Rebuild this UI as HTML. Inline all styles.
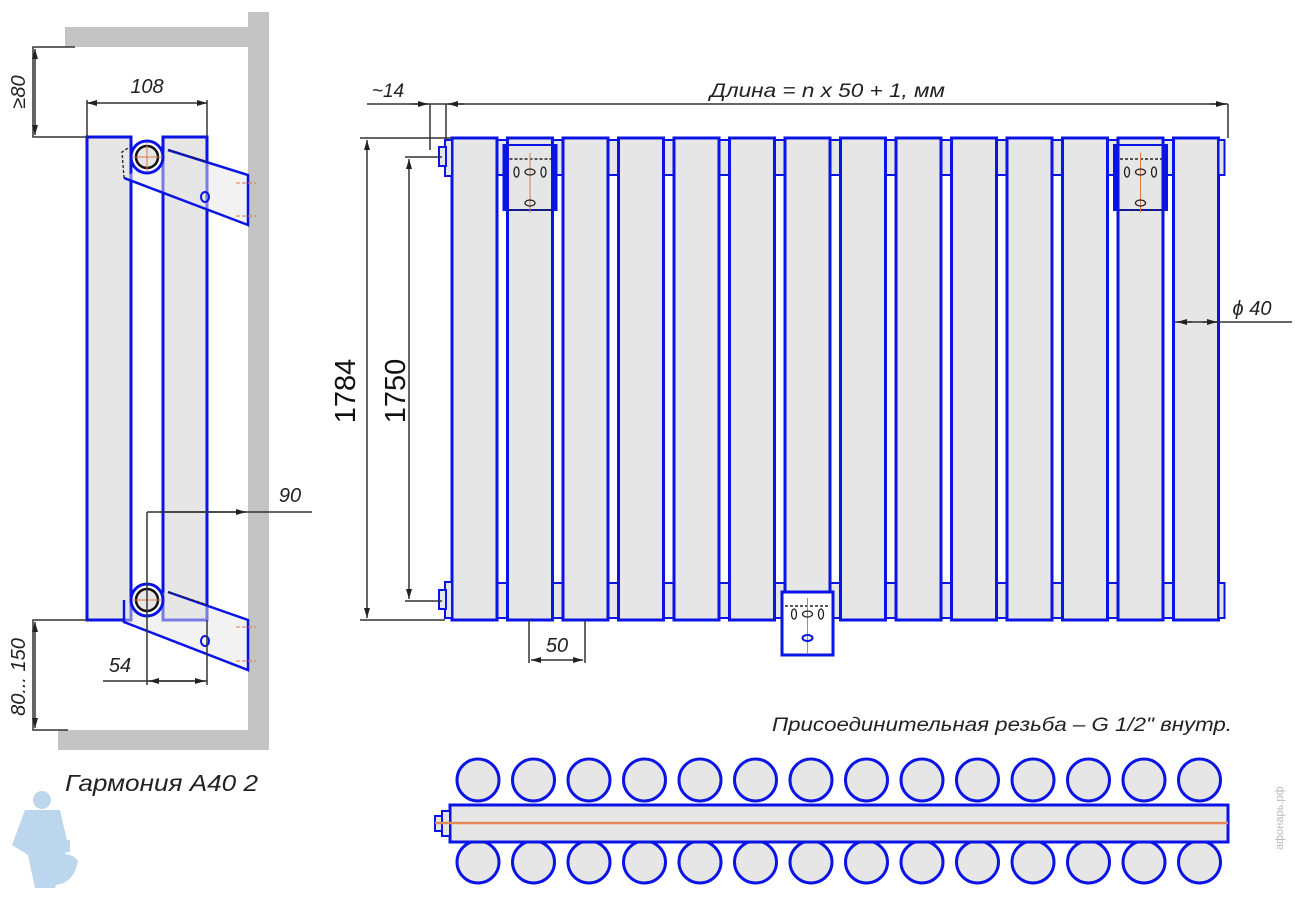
<!DOCTYPE html>
<html><head><meta charset="utf-8"><style>
html,body{margin:0;padding:0;background:#fff;}
svg{display:block;}
.t{font-family:"Liberation Sans","DejaVu Sans",sans-serif;font-style:italic;fill:#222;}
.d{stroke:#333;stroke-width:1.5;fill:none;}
.b{stroke:#0a14e6;fill:#e6e6e6;}
</style></head><body>
<svg width="1299" height="905" viewBox="0 0 1299 905" xmlns="http://www.w3.org/2000/svg">
<defs>
<marker id="a" viewBox="0 0 10 6" refX="10" refY="3" markerWidth="10" markerHeight="6" orient="auto-start-reverse" markerUnits="userSpaceOnUse"><path d="M0,0L10,3L0,6z" fill="#222"/></marker>
<g id="col">
<rect x="45" y="140" width="10" height="35" class="b" stroke-width="2"/>
<rect x="45" y="583" width="10" height="35" class="b" stroke-width="2"/>
<rect x="0" y="138" width="45" height="482" class="b" stroke-width="3"/>
</g>
<g id="cir"><circle r="21" class="b" stroke-width="3"/></g>
<g id="brk">
<rect x="-4" y="0" width="53" height="65" fill="none" stroke="#0a14e6" stroke-width="2"/>
<rect x="-4" y="0" width="5" height="65" fill="#0a14e6"/>
<rect x="44" y="0" width="5" height="65" fill="#0a14e6"/>
<line x1="2" y1="14" x2="44" y2="14" stroke="#222" stroke-dasharray="3,2" stroke-width="1.5"/>
<line x1="2" y1="65" x2="44" y2="65" stroke="#222" stroke-dasharray="3,2" stroke-width="1.5"/>
<line x1="22.5" y1="8" x2="22.5" y2="68" stroke="#e07840" stroke-width="1"/>
<ellipse cx="9" cy="27" rx="2.5" ry="5" fill="none" stroke="#222" stroke-width="1.3"/>
<ellipse cx="36" cy="27" rx="2.5" ry="5" fill="none" stroke="#222" stroke-width="1.3"/>
<ellipse cx="22.5" cy="27" rx="5" ry="3" fill="none" stroke="#222" stroke-width="1.3"/>
<ellipse cx="22.5" cy="58" rx="5" ry="3" fill="none" stroke="#222" stroke-width="1.3"/>
</g>
</defs>

<!-- LEFT SIDE VIEW -->
<rect x="65" y="27" width="183" height="20" fill="#c4c4c4"/>
<rect x="248" y="12" width="21" height="738" fill="#c4c4c4"/>
<rect x="58" y="730" width="211" height="20" fill="#c4c4c4"/>
<rect x="87" y="137" width="44" height="483" class="b" stroke-width="3"/>
<rect x="163" y="137" width="44" height="483" class="b" stroke-width="3"/>
<line x1="131" y1="137" x2="131" y2="620" stroke="#0a14e6" stroke-width="3"/>
<path d="M168,150 L248,175 L248,225 L124,178" fill="#e6e6e6" fill-opacity=".5" stroke="#0a14e6" stroke-width="2.5"/>
<path d="M168,150 L208,162 M124,178 L122,152 L128,148" fill="none" stroke="#222" stroke-width="1.3" stroke-dasharray="3,2"/>
<ellipse cx="205" cy="197" rx="4" ry="5" fill="none" stroke="#0a14e6" stroke-width="2"/>
<line x1="236" y1="183" x2="256" y2="183" stroke="#e07840" stroke-dasharray="4,2"/>
<line x1="236" y1="216" x2="256" y2="216" stroke="#e07840" stroke-dasharray="4,2"/>
<circle cx="147" cy="157" r="16" fill="#fff" stroke="#0a14e6" stroke-width="3"/>
<circle cx="147" cy="157" r="11" fill="#e6e6e6" stroke="#111" stroke-width="2.5"/>
<line x1="133" y1="157" x2="161" y2="157" stroke="#e07840"/><line x1="147" y1="143" x2="147" y2="171" stroke="#e07840"/>
<path d="M168,592 L248,620 L248,670 L124,622 L124,600" fill="#e6e6e6" fill-opacity=".5" stroke="#0a14e6" stroke-width="2.5"/>
<path d="M168,592 L208,605" fill="none" stroke="#222" stroke-width="1.3" stroke-dasharray="3,2"/>
<ellipse cx="205" cy="641" rx="4" ry="5" fill="none" stroke="#0a14e6" stroke-width="2"/>
<line x1="236" y1="627" x2="256" y2="627" stroke="#e07840" stroke-dasharray="4,2"/>
<line x1="236" y1="661" x2="256" y2="661" stroke="#e07840" stroke-dasharray="4,2"/>
<circle cx="147" cy="600" r="16" fill="#fff" stroke="#0a14e6" stroke-width="3"/>
<circle cx="147" cy="600" r="11" fill="#e6e6e6" stroke="#111" stroke-width="2.5"/>
<line x1="133" y1="600" x2="161" y2="600" stroke="#e07840"/><line x1="147" y1="586" x2="147" y2="614" stroke="#e07840"/>
<path class="d" d="M75,47 L33,47 L33,137 L87,137"/>
<line class="d" x1="35" y1="49" x2="35" y2="135" marker-start="url(#a)" marker-end="url(#a)"/>
<text class="t" font-size="20" transform="translate(25,92) rotate(-90)" text-anchor="middle">≥80</text>
<path class="d" d="M87,137 L87,100 M207,137 L207,100"/>
<line class="d" x1="87" y1="103" x2="207" y2="103" marker-start="url(#a)" marker-end="url(#a)"/>
<text class="t" font-size="20" x="147" y="93" text-anchor="middle">108</text>
<path class="d" d="M147,512 L147,685 M312,512 L147,512"/>
<line class="d" x1="160" y1="512" x2="246" y2="512" marker-end="url(#a)"/>
<text class="t" font-size="20" x="290" y="502" text-anchor="middle">90</text>
<path class="d" d="M103,681 L207,681 M207,620 L207,685"/>
<line class="d" x1="149" y1="681" x2="205" y2="681" marker-start="url(#a)" marker-end="url(#a)"/>
<text class="t" font-size="20" x="120" y="672" text-anchor="middle">54</text>
<path class="d" d="M87,620 L33,620 L33,730 L68,730"/>
<line class="d" x1="35" y1="622" x2="35" y2="728" marker-start="url(#a)" marker-end="url(#a)"/>
<text class="t" font-size="20" transform="translate(25,677) rotate(-90)" text-anchor="middle">80... 150</text>
<text class="t" font-size="23" x="65" y="791" textLength="193" lengthAdjust="spacingAndGlyphs" fill="#111">Гармония А40 2</text>
<g fill="#bcd6ee"><circle cx="42" cy="800" r="9"/><path d="M25,810 L60,810 L68,845 L55,888 L35,888 L28,855 L12,845z"/><path d="M50,840 h20 v12 h-20z"/><path d="M50,855 q22,-4 28,6 q-4,22 -22,24 z"/></g>

<!-- FRONT VIEW -->
<use href="#col" x="452"/><use href="#col" x="507.5"/><use href="#col" x="563"/><use href="#col" x="618.5"/>
<use href="#col" x="674"/><use href="#col" x="729.5"/><use href="#col" x="785"/><use href="#col" x="840.5"/>
<use href="#col" x="896"/><use href="#col" x="951.5"/><use href="#col" x="1007"/><use href="#col" x="1062.5"/>
<use href="#col" x="1118"/>
<rect x="1173.5" y="138" width="45" height="482" class="b" stroke-width="3"/>
<rect x="1218.5" y="140" width="6" height="35" class="b" stroke-width="2"/>
<rect x="1218.5" y="583" width="6" height="35" class="b" stroke-width="2"/>
<rect x="445" y="140" width="7" height="36" class="b" stroke-width="2"/>
<rect x="439" y="147" width="7" height="19" class="b" stroke-width="2"/>
<rect x="445" y="582" width="7" height="36" class="b" stroke-width="2"/>
<rect x="439" y="590" width="7" height="19" class="b" stroke-width="2"/>
<use href="#brk" x="507.5" y="145"/>
<use href="#brk" x="1118" y="145"/>
<g transform="translate(785,592)">
<rect x="-3" y="0" width="51" height="63" fill="#fff" stroke="#0a14e6" stroke-width="3"/>
<line x1="0" y1="14" x2="45" y2="14" stroke="#222" stroke-dasharray="3,2" stroke-width="1.5"/>
<line x1="22.5" y1="6" x2="22.5" y2="62" stroke="#e07840"/>
<ellipse cx="9" cy="22" rx="2.5" ry="5" fill="none" stroke="#222" stroke-width="1.3"/>
<ellipse cx="36" cy="22" rx="2.5" ry="5" fill="none" stroke="#222" stroke-width="1.3"/>
<ellipse cx="22.5" cy="22" rx="5" ry="3" fill="none" stroke="#222" stroke-width="1.3"/>
<ellipse cx="22.5" cy="46" rx="5" ry="3" fill="none" stroke="#0a14e6" stroke-width="2"/>
</g>
<line class="d" x1="367" y1="104" x2="1228" y2="104"/>
<path class="d" d="M1228,104 L1228,138 M430,104 L430,150 M446,104 L446,140"/>
<line class="d" x1="412" y1="104" x2="428" y2="104" marker-end="url(#a)"/>
<line class="d" x1="464" y1="104" x2="448" y2="104" marker-end="url(#a)"/>
<line class="d" x1="1210" y1="104" x2="1226" y2="104" marker-end="url(#a)"/>
<text class="t" font-size="19" x="388" y="97" text-anchor="middle">~14</text>
<text class="t" font-size="19" x="710" y="97" textLength="235" lengthAdjust="spacingAndGlyphs">Длина = n x 50 + 1, мм</text>
<path class="d" d="M360,138 L452,138 M360,620 L445,620 M405,157 L442,157 M405,601 L442,601"/>
<line class="d" x1="367" y1="140" x2="367" y2="618" marker-start="url(#a)" marker-end="url(#a)"/>
<line class="d" x1="409" y1="159" x2="409" y2="599" marker-start="url(#a)" marker-end="url(#a)"/>
<text font-family="Liberation Sans,sans-serif" font-size="29" fill="#111" transform="translate(355,391) rotate(-90)" text-anchor="middle">1784</text>
<text font-family="Liberation Sans,sans-serif" font-size="29" fill="#111" transform="translate(405,391) rotate(-90)" text-anchor="middle">1750</text>
<path class="d" d="M529,620 L529,663 M585,620 L585,663"/>
<line class="d" x1="531" y1="660" x2="583" y2="660" marker-start="url(#a)" marker-end="url(#a)"/>
<text class="t" font-size="20" x="557" y="652" text-anchor="middle">50</text>
<line class="d" x1="1175" y1="322" x2="1292" y2="322"/>
<line class="d" x1="1192" y1="322" x2="1177" y2="322" marker-end="url(#a)"/>
<line class="d" x1="1202" y1="322" x2="1217" y2="322" marker-end="url(#a)"/>
<text class="t" font-size="20" x="1252" y="315" text-anchor="middle">ϕ 40</text>
<text class="t" font-size="19" x="772" y="731" textLength="460" lengthAdjust="spacingAndGlyphs">Присоединительная резьба – G 1/2" внутр.</text>

<!-- BOTTOM VIEW -->
<g>
<use href="#cir" x="478" y="780"/><use href="#cir" x="533.5" y="780"/><use href="#cir" x="589" y="780"/><use href="#cir" x="644.5" y="780"/>
<use href="#cir" x="700" y="780"/><use href="#cir" x="755.5" y="780"/><use href="#cir" x="811" y="780"/><use href="#cir" x="866.5" y="780"/>
<use href="#cir" x="922" y="780"/><use href="#cir" x="977.5" y="780"/><use href="#cir" x="1033" y="780"/><use href="#cir" x="1088.5" y="780"/>
<use href="#cir" x="1144" y="780"/><use href="#cir" x="1199.5" y="780"/>
<use href="#cir" x="478" y="862"/><use href="#cir" x="533.5" y="862"/><use href="#cir" x="589" y="862"/><use href="#cir" x="644.5" y="862"/>
<use href="#cir" x="700" y="862"/><use href="#cir" x="755.5" y="862"/><use href="#cir" x="811" y="862"/><use href="#cir" x="866.5" y="862"/>
<use href="#cir" x="922" y="862"/><use href="#cir" x="977.5" y="862"/><use href="#cir" x="1033" y="862"/><use href="#cir" x="1088.5" y="862"/>
<use href="#cir" x="1144" y="862"/><use href="#cir" x="1199.5" y="862"/>
</g>
<rect x="450" y="805" width="778" height="37" class="b" stroke-width="3"/>
<rect x="442" y="811" width="8" height="25" class="b" stroke-width="2"/>
<rect x="435" y="816" width="7" height="15" class="b" stroke-width="2"/>
<line x1="435" y1="823" x2="1228" y2="823" stroke="#e08a5a" stroke-width="2.5"/>
<text font-family="Liberation Sans,sans-serif" font-size="11" fill="#bbb" transform="translate(1283,850) rotate(-90)">афонарь.рф</text>
</svg>
</body></html>
